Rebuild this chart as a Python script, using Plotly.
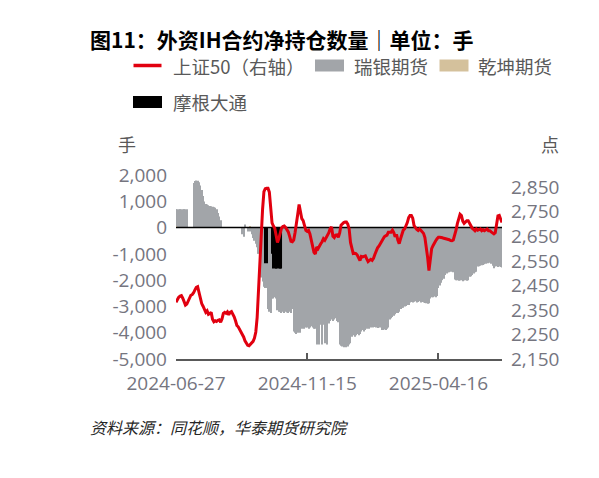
import plotly.graph_objects as go

# -----------------------------
# 1. Data (one value per trading day)
# -----------------------------
tick_index = [0, 97, 194]
tick_labels = ['2024-06-27', '2024-11-15', '2025-04-16']

# 瑞银期货 net position (lots), None = no position that day
ubs = [
    700, 700, 700, 700, 700, 700, 700, 700, 700,
    None, None, None, None,
    1700, 1770, 1790, 1780, 1720, 1600, 1430, 1200, 990, 900, 880, 850, 820, 810, 790, 770, 750, 700, 550, 420, 280,
    None, None, None, None, None, None, None, None, None, None, None, None, None, None, None,
    -250, -350, 120, None, -150, -100, -150, -250, -400, -500, -620, -750, -1000, -1400, -1900, -2050, -2250, -2300, -2300, -3100, -3200, -3250,
    -2700, -2700, -2650, -2700, -3150, -3200, -3200, -3250, -3200, -3250, -3200, -3230, -3250, -3200, -3250, -3100,
    -3950, -4000, -4050, -4000, -3950, -4000, -3850, -3800, -3850, -3800, -3800, -3850, -3800, -3750, -3800, -3850, -3850,
    -4450, -3750, -4450, -3700, -4450, -3700, -4400, -3700, -4450, -3650, -3550, -3500, -3550, -3500, -3450, -3550, -3600,
    -4450, -4500, -4520, -4550, -4500, -4550, -4520, -4450, -4400, -4150, -4100, -4150, -4100, -4050, -4100, -4050,
    -3950, -3900, -3950, -3900, -3850, -3800, -3850, -3800, -3780, -3800, -3780, -3800, -3820, -3780, -3800, -3900, -3900, -3880, -3900, -3850, -3800,
    -3500, -3450, -3400, -3350, -3300, -3250, -3250, -3200, -3100, -3050, -3050, -3000, -2980, -2950, -2950,
    -2850, -2830, -2850, -2820, -2800, -2850, -2830, -2800, -2850, -2830, -2850, -2870, -2880, -2900, -2880,
    -2700, -2650, -2650, -2620, -2650, -2600, -2300, -2200, -2100, -2000, -1950, -1800, -1750, -1700, -1700, -1680, -1650, -1700,
    -1980, -2000, -2000, -2020, -2000, -2000, -2040, -2000, -2000, -2020, -2000, -1870, -1850, -1800, -1750, -1700, -1680,
    -1480, -1470, -1450, -1430, -1420, -1400, -1380, -1350, -1360, -1340, -1380, -1450, -1550, -1480, -1470, -1500, -1480, -1500, -1520,
]

# 乾坤期货 and 摩根大通 only show up on a few days
qiankun_idx = [0, 55]
qiankun = [50, 60]
jpm_idx = [66, 67, 71, 72, 73, 74, 75, 76, 77, 78]
jpm = [-1360, -1360, -1000, -1560, -1560, -1560, -1560, -1560, -1560, -1560]

# 上证50 close (right axis)
sz50 = [
    2381, 2392, 2402, 2406, 2408, 2398, 2385, 2370, 2374, 2388,
    2398, 2410, 2413, 2420, 2432, 2442, 2445, 2420, 2390, 2376,
    2365, 2350, 2340, 2346, 2332, 2335, 2340, 2312, 2302, 2306,
    2303, 2308, 2310, 2300, 2313, 2336, 2340, 2336, 2342, 2330,
    2340, 2343, 2334, 2322, 2306, 2287, 2281, 2270, 2262, 2254,
    2240, 2224, 2212, 2206, 2204, 2210, 2214, 2222, 2235, 2260,
    2320, 2440, 2580, 2690, 2760, 2832, 2844, 2846, 2846, 2830,
    2780, 2705, 2692, 2683, 2655, 2625, 2640, 2665, 2683, 2690,
    2692, 2686, 2675, 2668, 2650, 2630, 2628, 2635, 2665, 2712,
    2740, 2780, 2752, 2722, 2714, 2690, 2674, 2670, 2674, 2660,
    2632, 2605, 2585, 2578, 2606, 2600, 2612, 2620, 2628, 2640,
    2634, 2644, 2654, 2665, 2682, 2688, 2650, 2645, 2655, 2656,
    2646, 2664, 2695, 2702, 2706, 2708, 2708, 2700, 2680, 2625,
    2595, 2580, 2581, 2580, 2574, 2563, 2551, 2568, 2566, 2568,
    2570, 2558, 2547, 2552, 2556, 2552, 2560, 2576, 2594, 2603,
    2610, 2620, 2630, 2644, 2648, 2652, 2655, 2667, 2667, 2667,
    2675, 2665, 2648, 2658, 2635, 2620, 2640, 2660, 2675, 2680,
    2690, 2706, 2726, 2735, 2735, 2724, 2694, 2684, 2678, 2674,
    2680, 2675, 2670, 2662, 2645, 2612, 2565, 2510, 2570, 2600,
    2612, 2624, 2632, 2640, 2646, 2646, 2646, 2644, 2642, 2641,
    2640, 2640, 2636, 2633, 2632, 2635, 2653, 2675, 2702, 2725,
    2740, 2735, 2712, 2703, 2708, 2714, 2714, 2703, 2690, 2683,
    2678, 2673, 2680, 2675, 2677, 2680, 2673, 2677, 2673, 2678,
    2680, 2673, 2673, 2668, 2664, 2660, 2665, 2695, 2733, 2735,
    2715, 2706,
]

assert len(ubs) == len(sz50)
n = len(sz50)
days = list(range(n))

left_ticks = [-5000, -4000, -3000, -2000, -1000, 0, 1000, 2000]
right_ticks = [2150, 2250, 2350, 2450, 2550, 2650, 2750, 2850]

# -----------------------------
# 2. Styling
# -----------------------------
RED = '#E1000F'
GRAY = '#A2A5A9'
TAN = '#D4C19C'
TEXT = '#595959'
TICK = '#75757F'
CJK = 'Noto Sans CJK SC'
NUM = 'Open Sans, Noto Sans CJK SC'

W, H = 599, 478
PAGE = 8  # the page body margin pushes the plot 8px right/down
# plot box in page pixels, used to place the hand-drawn legend and labels
L, R, T, B = 176, 502, 175, 359


def paper(x, y):
    return (x - L) / (R - L), (B - y) / (B - T)


def fmt(v):
    return f'{v:,}'.replace('\u2212', '-')


# -----------------------------
# 3. Figure
# -----------------------------
fig = go.Figure()
fig.add_trace(go.Bar(x=days, y=ubs, name='瑞银期货', marker=dict(color=GRAY, line_width=0), width=0.78))
fig.add_trace(go.Bar(x=qiankun_idx, y=qiankun, name='乾坤期货', marker=dict(color=TAN, line_width=0), width=0.78))
fig.add_trace(go.Bar(x=jpm_idx, y=jpm, name='摩根大通', marker=dict(color='black', line_width=0), width=0.78))
# black line at zero sits above the bars but under the index line
fig.add_trace(go.Scatter(x=[days[0], days[-1]], y=[0, 0], mode='lines',
                         line=dict(color='black', width=1.5), showlegend=False, hoverinfo='skip'))
fig.add_trace(go.Scatter(x=days, y=sz50, name='上证50（右轴）', mode='lines',
                         line=dict(color=RED, width=3), yaxis='y2'))

fig.update_layout(
    width=W, height=H,
    margin=dict(l=L - PAGE, r=W - R + PAGE, t=T - PAGE, b=H - B + PAGE),
    paper_bgcolor='white', plot_bgcolor='white',
    barmode='overlay', showlegend=False,
    font=dict(family=CJK, color=TEXT),
    xaxis=dict(range=[0, n - 1], showgrid=False, zeroline=False,
               showline=True, linecolor=TEXT, linewidth=1.5,
               ticks='inside', ticklen=6, tickwidth=1.5, tickcolor=TEXT,
               tickvals=tick_index + [n - 1], ticktext=tick_labels + [''],
               tickfont=dict(family=NUM, size=19, color=TICK), ticklabelstandoff=6),
    yaxis=dict(range=[-5000, 2000], showgrid=False, zeroline=False, showline=False,
               tickvals=left_ticks, ticktext=[fmt(v) for v in left_ticks],
               tickfont=dict(family=NUM, size=19, color=TICK), ticklabelstandoff=8),
    yaxis2=dict(range=[2150, 2900], overlaying='y', side='right', showgrid=False,
                zeroline=False, showline=False,
                tickvals=right_ticks, ticktext=[fmt(v) for v in right_ticks],
                tickfont=dict(family=NUM, size=19, color=TICK), ticklabelstandoff=8),
)

# -----------------------------
# 4. Legend (drawn by hand to get the wide keys), titles, source
# -----------------------------
legend_keys = [
    ('line', RED, 133.5, 65.5, 170.5, '上证50（右轴）'),
    ('rect', GRAY, 315, 65.5, 352, '瑞银期货'),
    ('rect', TAN, 439.5, 65.5, 476, '乾坤期货'),
    ('rect', 'black', 133, 102, 170.5, '摩根大通'),
]
for kind, color, kx, ky, tx, label in legend_keys:
    if kind == 'line':
        x0, y0 = paper(kx, ky)
        x1, _ = paper(kx + 28, ky)
        fig.add_shape(type='line', xref='paper', yref='paper', x0=x0, x1=x1, y0=y0, y1=y0,
                      line=dict(color=color, width=3.5))
    else:
        x0, y0 = paper(kx, ky - 6)
        x1, y1 = paper(kx + 29, ky + 6)
        fig.add_shape(type='rect', xref='paper', yref='paper', x0=x0, x1=x1, y0=y0, y1=y1,
                      fillcolor=color, line_width=0)
    ax, ay = paper(tx, ky)
    fig.add_annotation(text=label, xref='paper', yref='paper', x=ax, y=ay, xanchor='left',
                       yanchor='middle', showarrow=False, font=dict(size=18.5, color=TEXT))

texts = [
    (88, 38.5, '<b>图11：外资IH合约净持仓数量｜单位：手</b>', 'left', 21, 'black'),
    (594, 38.5, '<b>|</b>', 'left', 21, 'black'),
    (126.5, 143.5, '手', 'center', 18, TEXT),
    (550, 143.5, '点', 'center', 18, TEXT),
    (88, 427, '<i>资料来源：同花顺，华泰期货研究院</i>', 'left', 16, '#262626'),
]
for tx, ty, label, anchor, size, color in texts:
    ax, ay = paper(tx, ty)
    fig.add_annotation(text=label, xref='paper', yref='paper', x=ax, y=ay, xanchor=anchor,
                       yanchor='middle', showarrow=False, font=dict(size=size, color=color))

fig.write_html('out.html')
